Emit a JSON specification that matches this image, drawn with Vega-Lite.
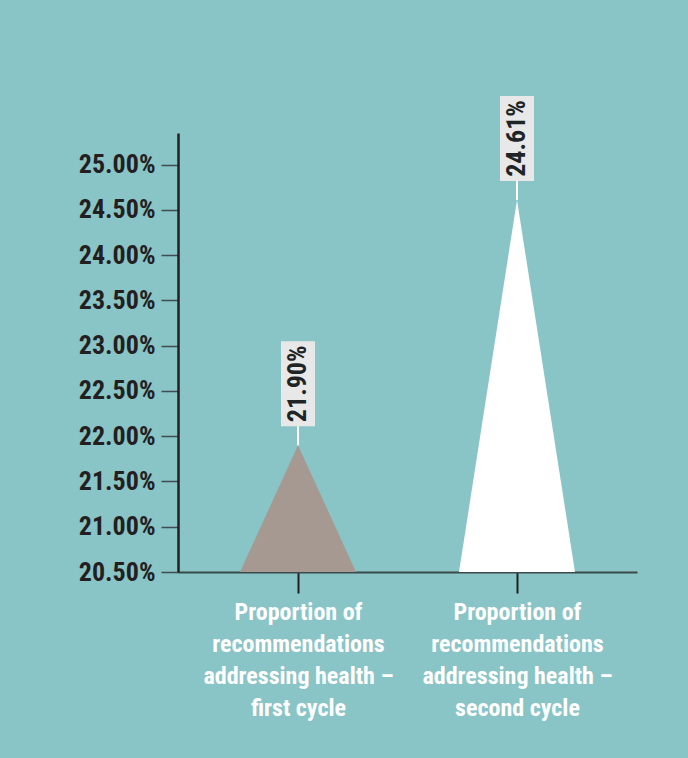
{
  "$schema": "https://vega.github.io/schema/vega-lite/v6.json",
  "width": 459,
  "height": 439,
  "autosize": {"type": "none"},
  "padding": {"left": 178, "top": 133, "right": 51, "bottom": 186},
  "background": "#89C4C7",
  "config": {"view": {"stroke": null}, "font": "Roboto Condensed"},
  "data": {
    "values": [
      {"category": "Proportion of recommendations addressing health – first cycle", "part": "left", "value": 0.205},
      {"category": "Proportion of recommendations addressing health – first cycle", "part": "peak", "value": 0.219},
      {"category": "Proportion of recommendations addressing health – first cycle", "part": "right", "value": 0.205},
      {"category": "Proportion of recommendations addressing health – second cycle", "part": "left", "value": 0.205},
      {"category": "Proportion of recommendations addressing health – second cycle", "part": "peak", "value": 0.2461},
      {"category": "Proportion of recommendations addressing health – second cycle", "part": "right", "value": 0.205}
    ]
  },
  "encoding": {
    "x": {
      "field": "category",
      "type": "nominal",
      "sort": null,
      "scale": {"type": "point", "padding": 0.548},
      "axis": {
        "title": null,
        "labelExpr": "split(replace(replace(datum.label, ' recommendations ', '|recommendations|'), '– ', '–|'), '|')",
        "labelAngle": 0,
        "labelColor": "white",
        "labelFont": "Roboto Condensed",
        "labelFontSize": 24,
        "labelFontWeight": "bold",
        "labelLineHeight": 32,
        "labelLimit": 0,
        "labelPadding": 7,
        "tickSize": 21,
        "tickColor": "#231F20",
        "tickWidth": 2,
        "domainColor": "#3A4B4C",
        "domainWidth": 2,
        "grid": false
      }
    },
    "y": {
      "field": "value",
      "type": "quantitative",
      "scale": {"domain": [0.205, 0.2535], "zero": false, "nice": false},
      "axis": {
        "title": null,
        "values": [0.205, 0.21, 0.215, 0.22, 0.225, 0.23, 0.235, 0.24, 0.245, 0.25],
        "format": ".2%",
        "labelFont": "Roboto Condensed",
        "labelFontSize": 26,
        "labelFontWeight": "bold",
        "labelColor": "#231F20",
        "labelPadding": 6,
        "tickSize": 17,
        "tickColor": "#3E4E50",
        "tickWidth": 1.5,
        "domainColor": "#231F20",
        "domainWidth": 2.5,
        "grid": false
      }
    }
  },
  "layer": [
    {
      "mark": {"type": "area", "opacity": 1},
      "encoding": {
        "xOffset": {"field": "part", "type": "nominal", "scale": {"type": "point", "domain": ["left", "peak", "right"], "range": [-58, 58], "padding": 0}},
        "y2": {"datum": 0.205},
        "detail": {"field": "category"},
        "color": {"field": "category", "type": "nominal", "sort": null, "scale": {"range": ["#A69991", "#FFFFFF"]}, "legend": null}
      }
    },
    {
      "transform": [{"filter": "datum.part === 'peak'"}],
      "mark": {"type": "rule", "color": "white", "strokeWidth": 2, "y2Offset": -19},
      "encoding": {"y2": {"field": "value"}}
    },
    {
      "transform": [{"filter": "datum.part === 'peak'"}],
      "mark": {"type": "point", "shape": "M-0.4,-1H0.4V1H-0.4Z", "size": 7225, "filled": true, "color": "#E8E8E8", "opacity": 1, "strokeWidth": 0, "yOffset": -61.5},
      "encoding": {}
    },
    {
      "transform": [{"filter": "datum.part === 'peak'"}],
      "mark": {"type": "text", "angle": 270, "font": "Roboto Condensed", "fontWeight": "bold", "fontSize": 26, "color": "#1F2526", "align": "center", "baseline": "middle", "yOffset": -61.5},
      "encoding": {"text": {"field": "value", "type": "quantitative", "format": ".2%"}}
    }
  ]
}
